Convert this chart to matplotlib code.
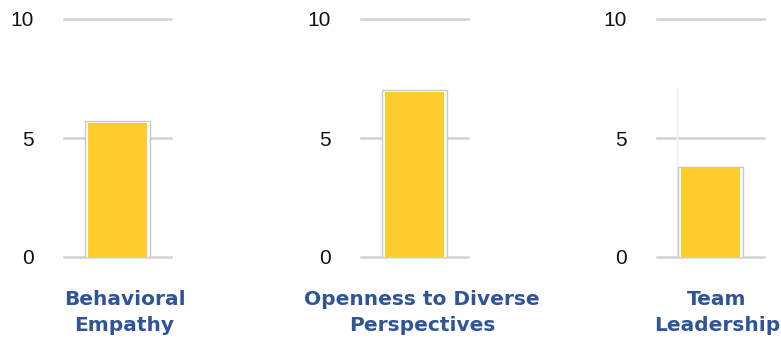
import matplotlib.pyplot as plt

plt.rcParams['font.family'] = ['Liberation Sans', 'DejaVu Sans']

# values
labels = ['Behavioral\nEmpathy', 'Openness to Diverse\nPerspectives', 'Team\nLeadership']
scores = [5.7, 7.0, 3.8]
yticks = [0, 5, 10]

W, H = 781, 345
fig = plt.figure(figsize=(W / 100, H / 100), dpi=100)

panelLeft = [64, 361, 657]      # px, left end of gridlines
panelW = 107
yTop, yBot = 19, 257            # px from top for 10 and 0
labelCx = [124.5, 422, 717]

barCol = '#FFCC2E'
gridCol = '#D2D2D2'
txtCol = '#2F5597'

for ii in range(3):
    ax = fig.add_axes([panelLeft[ii] / W, (H - yBot) / H, panelW / W, (yBot - yTop) / H])
    ax.set_xlim(-0.5, 0.5)
    ax.set_ylim(0, 10)
    for s in ax.spines.values():
        s.set_visible(False)
    ax.set_xticks([])
    ax.set_yticks(yticks)
    ax.set_yticklabels([str(t) for t in yticks])
    ax.tick_params(axis='y', length=0, pad=22, colors='#111111', labelsize=15)
    for t in yticks:
        ax.axhline(t, color=gridCol, lw=1.8, clip_on=False, zorder=1)
    if ii == 2:
        # faint artifact line left of the last bar
        ax.plot([-0.315, -0.315], [0, 7.1], color='#EFEFEF', lw=1, zorder=1)
    # outer gray outline + white gap + yellow fill
    ax.bar(0, scores[ii], width=0.61, color='white', edgecolor='#C8C8C8', lw=1.0, zorder=2)
    ax.bar(0, scores[ii] - 0.08, width=0.56, color=barCol, edgecolor='none', zorder=3)

    fig.text(labelCx[ii] / W, 1 - 290 / H, labels[ii], ha='center', va='top',
             fontsize=14.5, fontweight='bold', color=txtCol, family='DejaVu Sans',
             linespacing=1.45)

fig.savefig('out.png', dpi=100)
